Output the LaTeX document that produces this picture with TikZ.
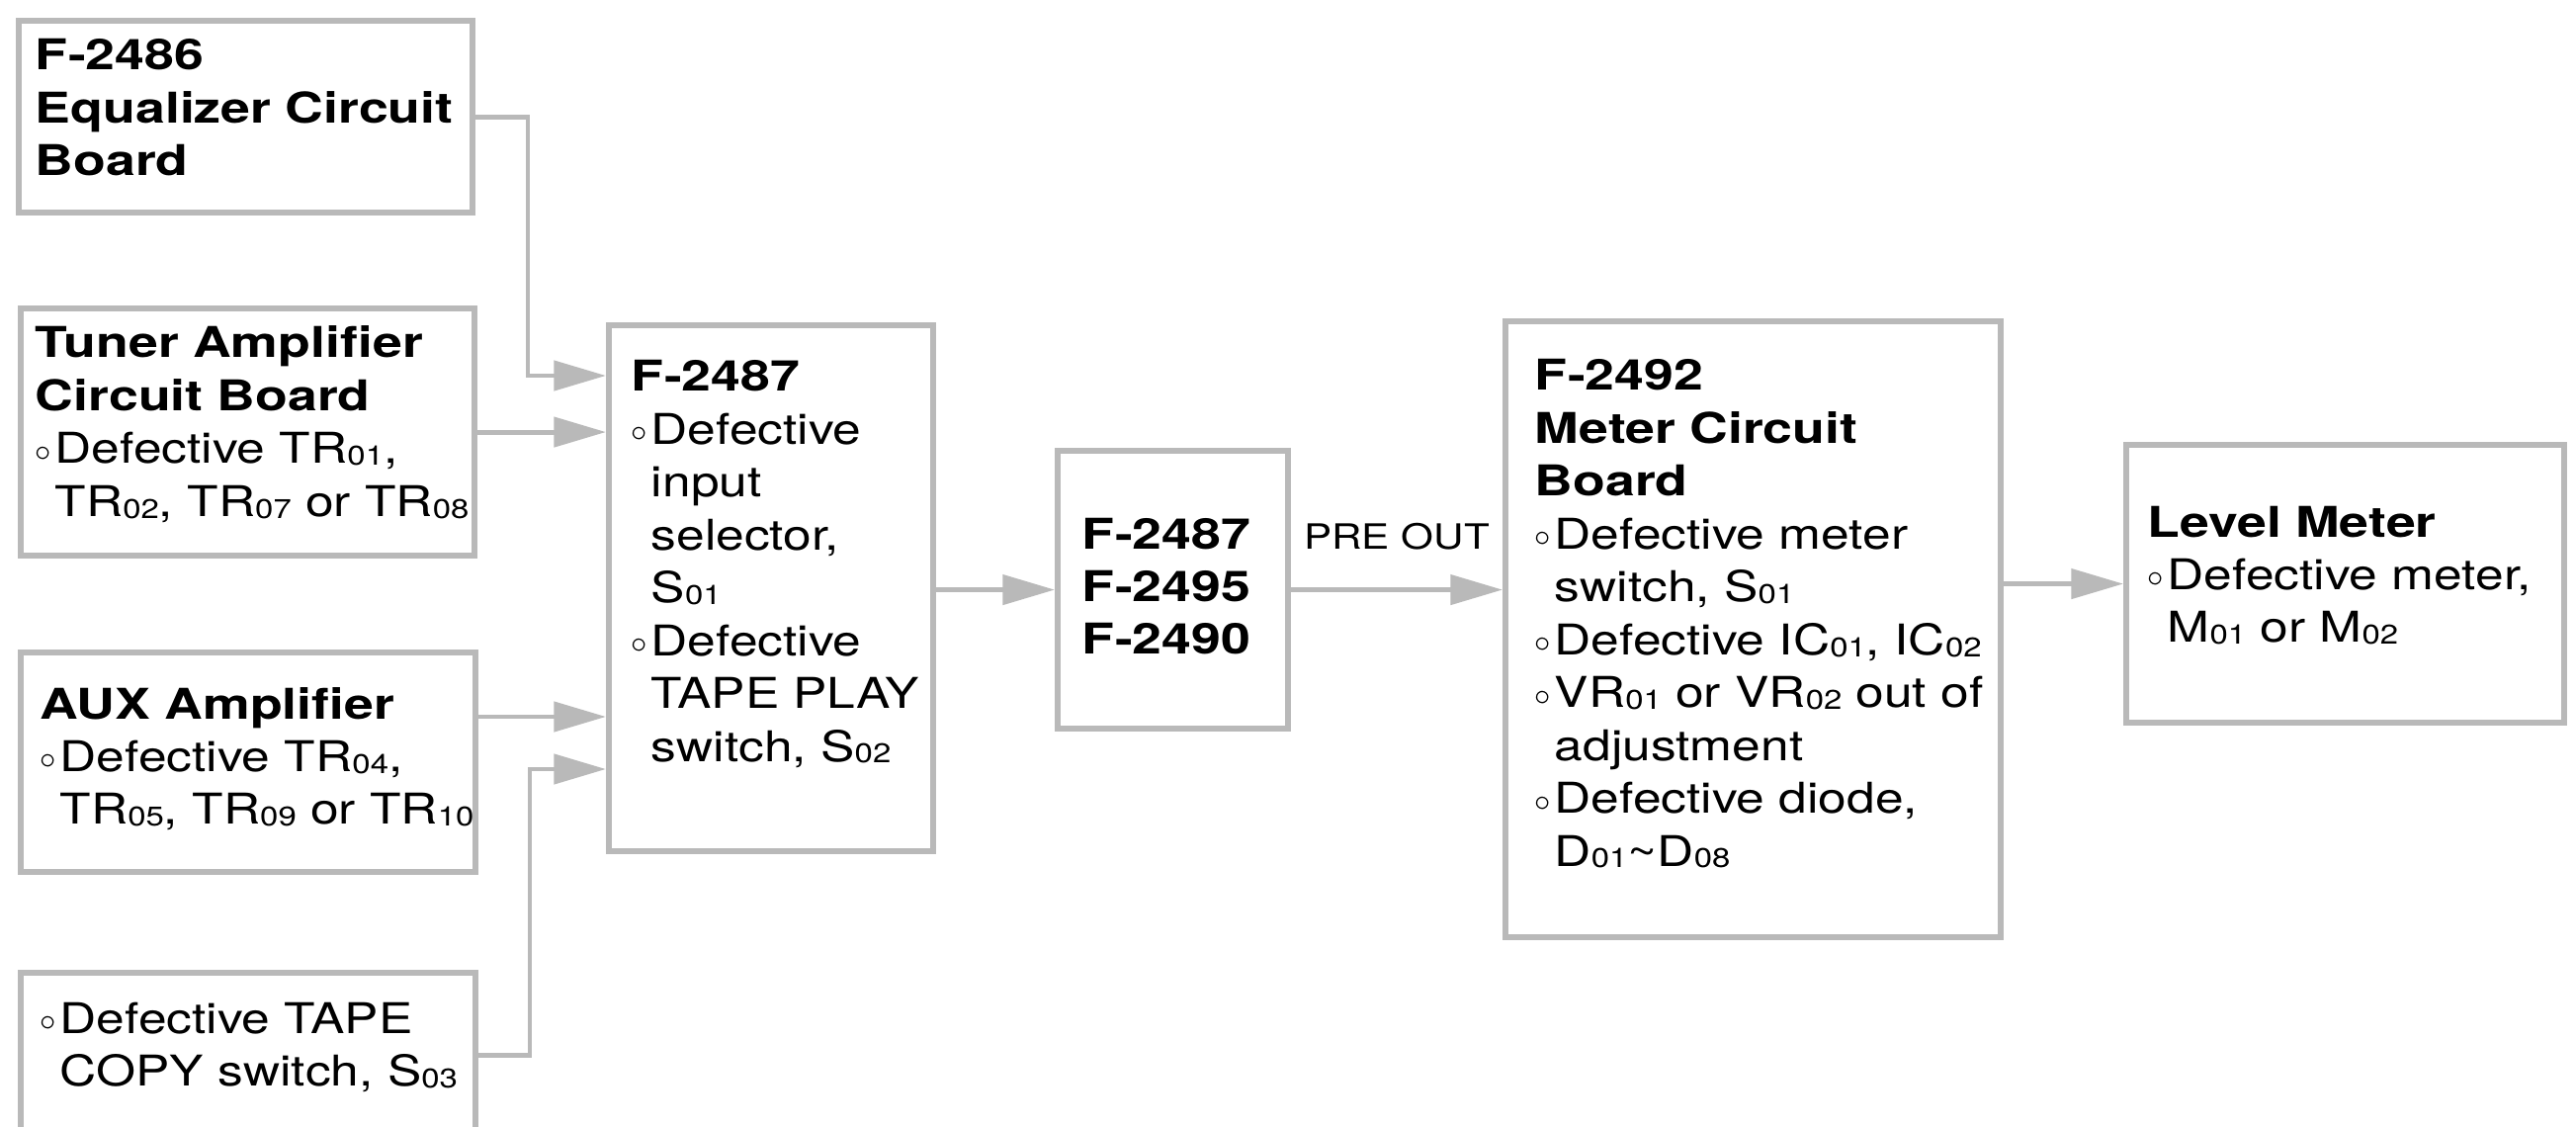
\documentclass[tikz,border=0pt]{standalone}
\usepackage{fontspec}
\setmainfont[FakeStretch=1.2, BoldFeatures={FakeStretch=1.25}]{TeX Gyre Heros}
\usepackage{tikz}
\usetikzlibrary{arrows.meta, positioning}

\definecolor{linegray}{RGB}{185,185,185}
% small part numbers (TR01, S02 ...)
\newcommand\ssub[1]{\raisebox{-0.5pt}{\fontsize{7.8}{8}\selectfont #1}}
\newcommand\bul{\makebox[5.7pt][l]{\raisebox{0.7pt}{$\scriptstyle\circ$}}}
\newcommand\ind{\hspace*{5.7pt}}

\begin{document}
\begin{tikzpicture}[x=0.01cm, y=-0.01cm,
    >={Triangle[length=15pt, width=8.5pt]},
    blk/.style={draw=linegray, line width=1.7pt, anchor=north west, inner sep=0pt},
    txt/.style={anchor=base west, inner sep=0pt, text width=6cm, align=left,
        font=\fontsize{12.2}{15.2}\selectfont},
    link/.style={draw=linegray, line width=1.4pt, ->}]
    \fill[white] (0,0) rectangle (2606,1140);
    \clip (0,0) rectangle (2606,1140);

    % Các khối đầu vào
    \node[blk, minimum width=4.59cm, minimum height=1.94cm] (eq) at (16,18) {};
    \node[txt] (eqtxt) at (35,71) {\textbf{F-2486}\\\textbf{Equalizer Circuit}\\\textbf{Board}};

    \node[blk, minimum width=4.59cm, minimum height=2.50cm] (tuner) at (18,309) {};
    \node[txt] (tunertxt) at (35,362) {\textbf{Tuner Amplifier}\\\textbf{Circuit Board}\\
        \bul Defective TR\ssub{01},\\\ind TR\ssub{02}, TR\ssub{07} or TR\ssub{08}};

    \node[blk, minimum width=4.60cm, minimum height=2.22cm] (aux) at (18,657) {};
    \node[txt] (auxtxt) at (40,727) {\textbf{AUX Amplifier}\\
        \bul Defective TR\ssub{04},\\\ind TR\ssub{05}, TR\ssub{09} or TR\ssub{10}};

    \node[blk, minimum width=4.60cm, minimum height=1.66cm] (copy) at (18,981) {};
    \node[txt] (copytxt) at (40,1045) {\bul Defective TAPE\\\ind COPY switch, S\ssub{03}};

    % Bộ chọn đầu vào và các khối phía sau
    \node[blk, minimum width=3.28cm, minimum height=5.32cm] (sel) at (613,326) {};
    \node[txt] (seltxt) at (638,396) {\textbf{F-2487}\\\bul Defective\\\ind input\\\ind selector,\\
        \ind S\ssub{01}\\\bul Defective\\\ind TAPE PLAY\\\ind switch, S\ssub{02}};

    \node[blk, minimum width=2.33cm, minimum height=2.81cm] (pre) at (1067,453) {};
    \node[txt] (pretxt) at (1094,555) {\textbf{F-2487}\\\textbf{F-2495}\\\textbf{F-2490}};

    \node[blk, minimum width=5.01cm, minimum height=6.23cm] (meter) at (1520,322) {};
    \node[txt] (metertxt) at (1552,395) {\textbf{F-2492}\\\textbf{Meter Circuit}\\\textbf{Board}\\
        \bul Defective meter\\\ind switch, S\ssub{01}\\\bul Defective IC\ssub{01}, IC\ssub{02}\\
        \bul VR\ssub{01} or VR\ssub{02} out of\\\ind adjustment\\\bul Defective diode,\\
        \ind D\ssub{01}\textasciitilde D\ssub{08}};

    \node[blk, minimum width=4.43cm, minimum height=2.81cm] (level) at (2148,447) {};
    \node[txt] (leveltxt) at (2172,543) {\textbf{Level Meter}\\\bul Defective meter,\\
        \ind M\ssub{01} or M\ssub{02}};

    % Đường nối
    \coordinate (k1) at (534,380);
    \coordinate (k3) at (613,725);
    \coordinate (k4) at (536,778);
    \draw[link] (eq.east) -| (k1) -- (sel.west |- k1);
    \draw[link] (tuner.east) -- (sel.west |- tuner.east);
    \draw[link] (aux.east |- k3) -- (sel.west |- k3);
    \draw[link] (copy.east) -| (k4) -- (sel.west |- k4);
    \draw[link] (sel.east |- pre.west) -- (pre.west);
    \draw[link] (pre.east) -- (meter.west |- pre.east)
        node[midway, above=0.38cm, inner sep=0pt, font=\fontsize{10}{12}\selectfont] (preout) {PRE OUT};
    \draw[link] (meter.east |- level.west) -- (level.west);
\end{tikzpicture}
\end{document}
